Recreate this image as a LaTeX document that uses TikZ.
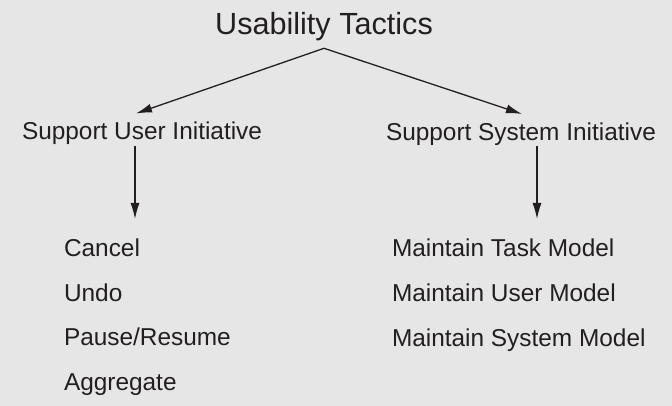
\documentclass[tikz,border=0pt]{standalone}
\usepackage{fontspec}
\setmainfont{Liberation Sans}
\usetikzlibrary{arrows.meta}
\definecolor{bg}{HTML}{E6E6E6}
\definecolor{ink}{HTML}{231F20}
\begin{document}
\begin{tikzpicture}[x=1pt,y=-1pt,
  every node/.style={inner sep=0pt, outer sep=0pt, text=ink},
  titletext/.style={font=\fontsize{30.6}{34}\selectfont, anchor=base},
  lbl/.style={font=\fontsize{24.4}{28}\selectfont, anchor=base west},
  conn/.style={draw=ink, line width=1.3pt, -{Latex[length=16pt,width=9pt]}}]
\fill[bg] (0,0) rectangle (672,406);
\useasboundingbox (0,0) rectangle (672,406);
\node[titletext] (title) at (324,35) {Usability Tactics};
\coordinate (apex) at (324,48.3);
\node[lbl] (sui) at (22,140) {Support User Initiative};
\node[lbl] (ssi) at (386,140.5) {Support System Initiative};
\coordinate (suiTop) at (136,113.5);
\coordinate (ssiTop) at (522,114);
\coordinate (suiFrom) at (135,146);
\coordinate (suiTo) at (135,219);
\coordinate (ssiFrom) at (537,146);
\coordinate (ssiTo) at (537,219);
\node[lbl] (cancel) at (64,256.7) {Cancel};
\node[lbl] (undo) at (64,301.3) {Undo};
\node[lbl] (pause) at (64,345.8) {Pause/Resume};
\node[lbl] (aggr) at (64,390) {Aggregate};
\node[lbl] (mtm) at (392,256.7) {Maintain Task Model};
\node[lbl] (mum) at (392,301.8) {Maintain User Model};
\node[lbl] (msm) at (392,346) {Maintain System Model};
\draw[conn] (apex) -- (suiTop);
\draw[conn] (apex) -- (ssiTop);
\draw[conn] (suiFrom) -- (suiTo);
\draw[conn] (ssiFrom) -- (ssiTo);
\end{tikzpicture}
\end{document}
